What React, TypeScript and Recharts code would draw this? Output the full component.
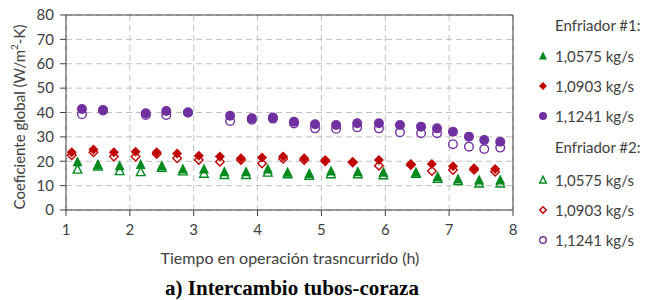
import React from 'react';
import { ScatterChart, Scatter, XAxis, YAxis, CartesianGrid, ReferenceLine, Legend, Label } from 'recharts';

// Tiempo (h) per mass-flow series
const timeLow = [1.18, 1.5, 1.84, 2.17, 2.5, 2.83, 3.16, 3.48, 3.82, 4.16, 4.47, 4.81, 5.15, 5.57, 5.97, 6.48, 6.82, 7.14, 7.47, 7.8];
const timeMid = [1.09, 1.43, 1.75, 2.09, 2.42, 2.74, 3.08, 3.41, 3.74, 4.07, 4.4, 4.73, 5.06, 5.49, 5.9, 6.4, 6.73, 7.06, 7.39, 7.72];
const timeHigh = [1.25, 1.58, 2.25, 2.57, 2.91, 3.57, 3.91, 4.24, 4.57, 4.9, 5.23, 5.56, 5.9, 6.23, 6.56, 6.81, 7.06, 7.31, 7.55, 7.8];

// Enfriador #1 (filled markers)
const e1Low = [19.8, 18.7, 18.2, 18.7, 18.2, 16.8, 16.8, 15.7, 15.7, 16.8, 15.5, 15.0, 16.0, 15.7, 15.5, 15.5, 13.7, 12.7, 12.3, 12.3];
const e1Mid = [23.7, 24.8, 23.7, 23.9, 23.7, 23.2, 22.3, 21.9, 21.2, 21.5, 21.9, 21.2, 20.5, 19.8, 20.5, 18.9, 18.9, 18.0, 17.1, 16.8];
const e1High = [41.4, 41.0, 39.7, 40.6, 40.0, 38.7, 37.6, 37.9, 36.2, 35.2, 34.9, 35.6, 35.6, 34.9, 34.2, 33.5, 32.1, 30.1, 28.7, 28.0];

// Enfriador #2 (hollow markers)
const e2Low = [16.7, 18.0, 16.1, 15.7, 17.5, 16.0, 15.0, 14.5, 14.5, 15.5, 14.8, 14.2, 14.8, 14.8, 14.4, 15.0, 13.0, 12.0, 11.0, 11.0];
const e2Mid = [22.5, 23.7, 21.9, 21.9, 23.0, 21.2, 20.5, 19.8, 20.5, 19.1, 21.0, 20.5, 20.0, 19.5, 18.2, 18.5, 16.0, 16.4, 16.5, 15.7];
const e2High = [39.3, 40.8, 39.0, 39.0, 40.0, 36.5, 37.0, 37.5, 35.5, 33.5, 33.3, 33.9, 33.5, 31.9, 31.5, 31.5, 27.0, 26.0, 25.0, 25.6];

const xTicks = [1, 2, 3, 4, 5, 6, 7, 8];
const yTicks = [0, 10, 20, 30, 40, 50, 60, 70, 80];
const flowLabels = ['1,0575 kg/s', '1,0903 kg/s', '1,1241 kg/s'];

const GREEN = '#008a1e';
const RED = '#c00000';
const PURPLE = '#7030a0';
const FONT = 'Lato, "Noto Sans", sans-serif';
const TXT = '#404040';

const zip = (xs: number[], ys: number[]) => xs.map((x, i) => ({ x, y: ys[i] }));

type Kind = 'tri' | 'dia' | 'cir';

const markerEl = (kind: Kind, cx: number, cy: number, color: string, filled: boolean, r: number) => {
  const fill = filled ? color : 'none';
  const sw = filled ? 0 : 1.4;
  const rr = filled ? r : r - 0.7;
  if (kind === 'tri') {
    const pts = `${cx},${cy - rr * 1.1} ${cx - rr},${cy + rr * 0.9} ${cx + rr},${cy + rr * 0.9}`;
    return <polygon points={pts} fill={fill} stroke={color} strokeWidth={sw} />;
  }
  if (kind === 'dia') {
    const pts = `${cx},${cy - rr} ${cx + rr},${cy} ${cx},${cy + rr} ${cx - rr},${cy}`;
    return <polygon points={pts} fill={fill} stroke={color} strokeWidth={sw} />;
  }
  return <circle cx={cx} cy={cy} r={rr} fill={fill} stroke={color} strokeWidth={sw} />;
};

const makeShape = (kind: Kind, color: string, filled: boolean) => (props: any) => {
  const { cx, cy } = props;
  if (cx == null || cy == null) return <g />;
  return markerEl(kind, cx, cy, color, filled, 5);
};

const legendRows = [
  { top: 25, header: 'Enfriador #1:' },
  { top: 56, kind: 'tri' as Kind, color: GREEN, filled: true, text: flowLabels[0] },
  { top: 86, kind: 'dia' as Kind, color: RED, filled: true, text: flowLabels[1] },
  { top: 116, kind: 'cir' as Kind, color: PURPLE, filled: true, text: flowLabels[2] },
  { top: 147, header: 'Enfriador #2:' },
  { top: 180, kind: 'tri' as Kind, color: GREEN, filled: false, text: flowLabels[0] },
  { top: 210, kind: 'dia' as Kind, color: RED, filled: false, text: flowLabels[1] },
  { top: 240, kind: 'cir' as Kind, color: PURPLE, filled: false, text: flowLabels[2] },
];

const LegendContent = () => (
  <div style={{ position: 'relative', width: 120, height: 260, fontFamily: FONT, fontSize: 15, color: TXT }}>
    {legendRows.map((r, i) => (
      <div key={i} style={{ position: 'absolute', left: 0, top: r.top - 10, height: 20, lineHeight: '20px', whiteSpace: 'nowrap' }}>
        {r.header ? (
          <span style={{ position: 'absolute', left: 25 }}>{r.header}</span>
        ) : (
          <>
            <svg width={12} height={12} style={{ position: 'absolute', left: 7, top: 4 }}>
              {markerEl(r.kind as Kind, 6, 6, r.color as string, !!r.filled, 4)}
            </svg>
            <span style={{ position: 'absolute', left: 25 }}>{r.text}</span>
          </>
        )}
      </div>
    ))}
  </div>
);

export default function App() {
  return (
    <div style={{ position: 'absolute', left: 0, top: 0, width: 650, height: 300, background: '#fff' }}>
      <ScatterChart width={650} height={300} margin={{ top: 15, right: 137, bottom: 60, left: 20 }}>
        <CartesianGrid stroke="#c0c0c0" strokeDasharray="6 4" />
        <XAxis
          dataKey="x"
          type="number"
          domain={[1, 8]}
          ticks={xTicks}
          height={30}
          tickSize={6}
          tickMargin={8}
          axisLine={{ stroke: TXT }}
          tickLine={{ stroke: TXT }}
          tick={{ fill: TXT, fontSize: 15, fontFamily: FONT }}
          allowDataOverflow
        >
          <Label
            content={() => (
              <g>
                <text x={290} y={257} textAnchor="middle" dominantBaseline="central" fill={TXT} fontSize={16} fontFamily={FONT}>
                  Tiempo en operación trasncurrido (h)
                </text>
                <text x={292} y={288} textAnchor="middle" dominantBaseline="central" fill="#000" fontSize={21} fontWeight="bold" fontFamily='"Liberation Serif", "Times New Roman", serif'>
                  a) Intercambio tubos-coraza
                </text>
              </g>
            )}
          />
        </XAxis>
        <YAxis
          dataKey="y"
          type="number"
          domain={[0, 80]}
          ticks={yTicks}
          width={46}
          tickSize={6}
          tickMargin={6}
          axisLine={{ stroke: TXT }}
          tickLine={{ stroke: TXT }}
          tick={{ fill: TXT, fontSize: 15, fontFamily: FONT }}
          allowDataOverflow
        >
          <Label
            content={() => (
              <text x={19} y={117} transform="rotate(-90 19 117)" textAnchor="middle" dominantBaseline="central" fill={TXT} fontSize={15} fontFamily={FONT}>
                Coeficiente global (W/m
                <tspan dy={-5} fontSize={10}>2</tspan>
                <tspan dy={5}>-K)</tspan>
              </text>
            )}
          />
        </YAxis>
        <ReferenceLine y={80} stroke={TXT} strokeWidth={1} />
        <ReferenceLine x={8} stroke={TXT} strokeWidth={1} />
        <Legend
          layout="vertical"
          align="center"
          verticalAlign="middle"
          wrapperStyle={{ left: 530, top: 0, width: 120, height: 260 }}
          content={() => <LegendContent />}
        />
        <Scatter name="E1 1,0575" data={zip(timeLow, e1Low)} shape={makeShape('tri', GREEN, true)} isAnimationActive={false} />
        <Scatter name="E1 1,0903" data={zip(timeMid, e1Mid)} shape={makeShape('dia', RED, true)} isAnimationActive={false} />
        <Scatter name="E1 1,1241" data={zip(timeHigh, e1High)} shape={makeShape('cir', PURPLE, true)} isAnimationActive={false} />
        <Scatter name="E2 1,0575" data={zip(timeLow, e2Low)} shape={makeShape('tri', GREEN, false)} isAnimationActive={false} />
        <Scatter name="E2 1,0903" data={zip(timeMid, e2Mid)} shape={makeShape('dia', RED, false)} isAnimationActive={false} />
        <Scatter name="E2 1,1241" data={zip(timeHigh, e2High)} shape={makeShape('cir', PURPLE, false)} isAnimationActive={false} />
      </ScatterChart>
    </div>
  );
}
